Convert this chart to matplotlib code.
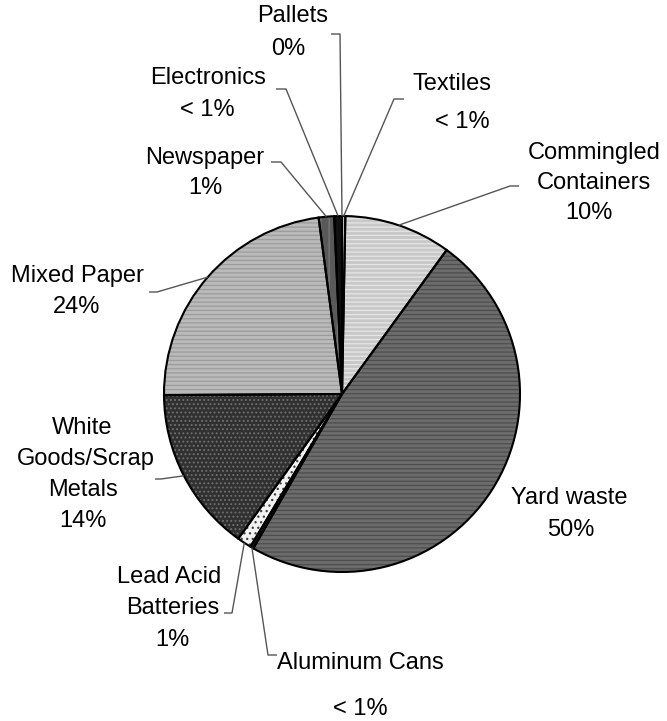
import numpy as np
import matplotlib
matplotlib.use("Agg")
import matplotlib.pyplot as plt

W, H = 667, 721

# ---- data (clockwise from 12 o'clock) ----
categories = ["Textiles", "Commingled Containers", "Yard waste", "Aluminum Cans",
              "Lead Acid Batteries", "White Goods/Scrap Metals", "Mixed Paper",
              "Newspaper", "Electronics", "Pallets"]
values = [0.3, 9.7, 48.3, 0.3, 1.3, 15.0, 23.0, 1.4, 0.7, 0.0]
pct_labels = ["< 1%", "10%", "50%", "< 1%", "1%", "14%", "24%", "1%", "< 1%", "0%"]

# ---- styles ----
colors = ["#d8d8d8", "#c8c8c8", "#6c6c6c", "#1e1e1e", "#f2f2f2",
          "#303030", "#bababa", "#595959", "#111111", "#000000"]
hatch_cols = ["#a0a0a0", "#e6e6e6", "#4e4e4e", "#1e1e1e", "#404040",
              "#6e6e6e", "#9c9c9c", "#7a7a7a", "#111111", "#000000"]
hatches = ["", "----", "----", "", "...", "....", "----", "||", "", ""]

CX, CY, R = 342, 394, 178   # pixel layout of the pie

# text lines (pixel centres) per slice
label_lines = {
    "Textiles": [("Textiles", 452, 84), ("< 1%", 462, 122)],
    "Commingled Containers": [("Commingled", 594, 153), ("Containers", 594, 183), ("10%", 589, 213)],
    "Yard waste": [("Yard waste", 569, 498), ("50%", 571, 530)],
    "Aluminum Cans": [("Aluminum Cans", 360, 663), ("< 1%", 360, 709)],
    "Lead Acid Batteries": [("Lead Acid", 169, 577), ("Batteries", 173, 608), ("1%", 172, 640)],
    "White Goods/Scrap Metals": [("White", 82, 428), ("Goods/Scrap", 86, 459), ("Metals", 83, 490), ("14%", 83, 521)],
    "Mixed Paper": [("Mixed Paper", 77, 276), ("24%", 77, 307)],
    "Newspaper": [("Newspaper", 205, 158), ("1%", 205, 188)],
    "Electronics": [("Electronics", 208, 78), ("< 1%", 207, 110)],
    "Pallets": [("Pallets", 293, 16), ("0%", 288, 49)],
}
# leader line start / knee (pixel), end computed on the pie edge
leaders = {
    "Textiles": [(404, 99), (394, 99)],
    "Commingled Containers": [(519, 186), (510, 186)],
    "Aluminum Cans": [(277, 655), (268, 655)],
    "Lead Acid Batteries": [(224, 613), (232, 613)],
    "White Goods/Scrap Metals": [(155, 479), (161, 479)],
    "Mixed Paper": [(149, 292), (157, 292)],
    "Newspaper": [(271, 162), (281, 162)],
    "Electronics": [(276, 89), (286, 89)],
    "Pallets": [(331, 34), (340, 34)],
}

plt.rcParams["hatch.linewidth"] = 0.9

fig = plt.figure(figsize=(W / 100, H / 100), dpi=100)
ax = fig.add_axes([0, 0, 1, 1])

center = (CX, H - CY)
wedges, _ = ax.pie(values, colors=colors, startangle=90, counterclock=False,
                   center=center, radius=R, frame=True,
                   wedgeprops=dict(linewidth=0))
hw, _ = ax.pie(values, colors=["none"] * len(values), startangle=90, counterclock=False,
               center=center, radius=R, frame=True,
               wedgeprops=dict(linewidth=0))
for w, hc, hp in zip(hw, hatch_cols, hatches):
    w.set_facecolor("none")
    w.set_edgecolor(hc)
    w.set_hatch(hp)
    w.set_linewidth(0)
ew, _ = ax.pie(values, colors=["none"] * len(values), startangle=90, counterclock=False,
               center=center, radius=R, frame=True,
               wedgeprops=dict(linewidth=1.5, edgecolor="black", facecolor="none"))
for w in ew:
    w.set_facecolor("none")

for cat, w in zip(categories, wedges):
    for txt, x, y in label_lines[cat]:
        ax.text(x, H - y, txt, ha="center", va="center", fontsize=17,
                family="Liberation Sans", color="black")
    if cat in leaders:
        mid = np.deg2rad((w.theta1 + w.theta2) / 2)
        ex = CX + R * np.cos(mid)
        ey = (H - CY) + R * np.sin(mid)
        (sx, sy), (kx, ky) = leaders[cat]
        ax.plot([sx, kx, ex], [H - sy, H - ky, ey], color="#555555", lw=1.0,
                solid_capstyle="butt")

ax.set_xlim(0, W)
ax.set_ylim(0, H)
ax.set_aspect("equal")
ax.axis("off")
fig.savefig("out.png", dpi=100, facecolor="white")
